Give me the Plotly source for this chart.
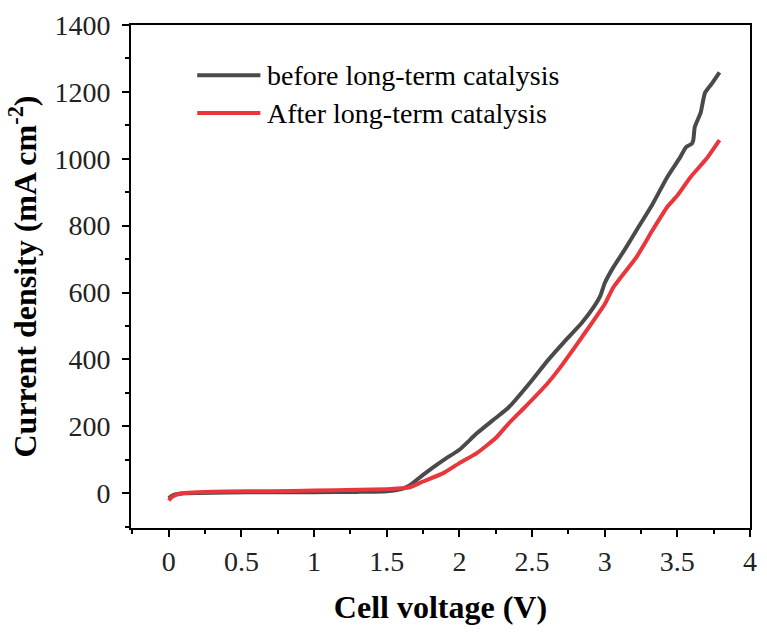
import plotly.graph_objects as go

# Polarization curves of the electrolysis cell
voltage_before = [0, 0.02, 0.05, 0.1, 0.2, 0.4, 0.7, 1.0, 1.3, 1.5, 1.6, 1.66, 1.75,
                  1.89, 2.0, 2.12, 2.25, 2.34, 2.5, 2.61, 2.72, 2.84, 2.93, 2.97, 3.0,
                  3.06, 3.14, 3.22, 3.33, 3.43, 3.52, 3.56, 3.60, 3.61, 3.62, 3.66,
                  3.69, 3.74, 3.79]
current_before = [-15, -8, -3, 0, 1, 2, 3, 3, 4, 6, 12, 24, 55,
                  99, 130, 179, 225, 257, 338, 398, 452, 508, 560, 590, 628,
                  676, 730, 787, 865, 945, 1005, 1035, 1045, 1056, 1095, 1137,
                  1197, 1226, 1258]

voltage_after = [0, 0.02, 0.05, 0.1, 0.2, 0.4, 0.7, 1.0, 1.3, 1.5, 1.6, 1.66, 1.75,
                 1.89, 2.0, 2.12, 2.25, 2.34, 2.45, 2.6, 2.68, 2.8, 2.91, 3.0, 3.06,
                 3.22, 3.33, 3.43, 3.5, 3.59, 3.7, 3.79]
current_after = [-22, -12, -5, 0, 3, 5, 6, 8, 10, 12, 15, 18, 35,
                 60, 90, 120, 165, 209, 257, 325, 368, 440, 508, 565, 616,
                 707, 787, 856, 890, 945, 1000, 1056]

series_names = ["before long-term catalysis", "After long-term catalysis"]
series_colors = ["#4a4a4a", "#e8363c"]

x_tick_vals = [0, 0.5, 1, 1.5, 2, 2.5, 3, 3.5, 4]
x_tick_text = ["0", "0.5", "1", "1.5", "2", "2.5", "3", "3.5", "4"]
y_tick_vals = [0, 200, 400, 600, 800, 1000, 1200, 1400]

FONT = "Liberation Serif"

fig = go.Figure()
for xs, ys, name, color in [(voltage_before, current_before, series_names[0], series_colors[0]),
                            (voltage_after, current_after, series_names[1], series_colors[1])]:
    fig.add_trace(go.Scatter(x=xs, y=ys, mode="lines", name=name,
                             line=dict(color=color, width=4, shape="spline", smoothing=0.5),
                             showlegend=False))

# Legend drawn as short line segments with labels
legend_y = [0.900, 0.825]
for yy, name, color in zip(legend_y, series_names, series_colors):
    fig.add_shape(type="line", xref="paper", yref="paper",
                  x0=0.107, x1=0.209, y0=yy, y1=yy,
                  line=dict(color=color, width=4))
    fig.add_annotation(xref="paper", yref="paper", x=0.217, y=yy,
                       text=name, showarrow=False, xanchor="left", yanchor="middle",
                       font=dict(family=FONT, size=28, color="black"))

axis_common = dict(
    showline=True, linecolor="black", linewidth=2, mirror=True,
    ticks="outside", ticklen=7, tickwidth=2, tickcolor="black",
    showgrid=False, zeroline=False,
    tickfont=dict(family=FONT, size=28, color="#222"),
)

fig.update_xaxes(
    range=[-0.26, 4], tickvals=x_tick_vals, ticktext=x_tick_text,
    minor=dict(ticks="outside", ticklen=4, tickwidth=2, tickcolor="black",
               dtick=0.25, tick0=0),
    title=dict(text="<b>Cell voltage (V)</b>", font=dict(family=FONT, size=32, color="black"),
               standoff=20),
    **axis_common,
)
fig.update_yaxes(
    range=[-104, 1400], tickvals=y_tick_vals, ticklabelstandoff=6,
    minor=dict(ticks="outside", ticklen=4, tickwidth=2, tickcolor="black",
               dtick=100, tick0=0),
    title=dict(text="<b>Current density (mA cm<sup>-2</sup>)</b>",
               font=dict(family=FONT, size=32, color="black"), standoff=8),
    **axis_common,
)

fig.update_layout(
    width=767, height=632,
    margin=dict(l=131, r=10, t=25, b=104),
    plot_bgcolor="white", paper_bgcolor="white",
)

fig.write_html("out.html")
